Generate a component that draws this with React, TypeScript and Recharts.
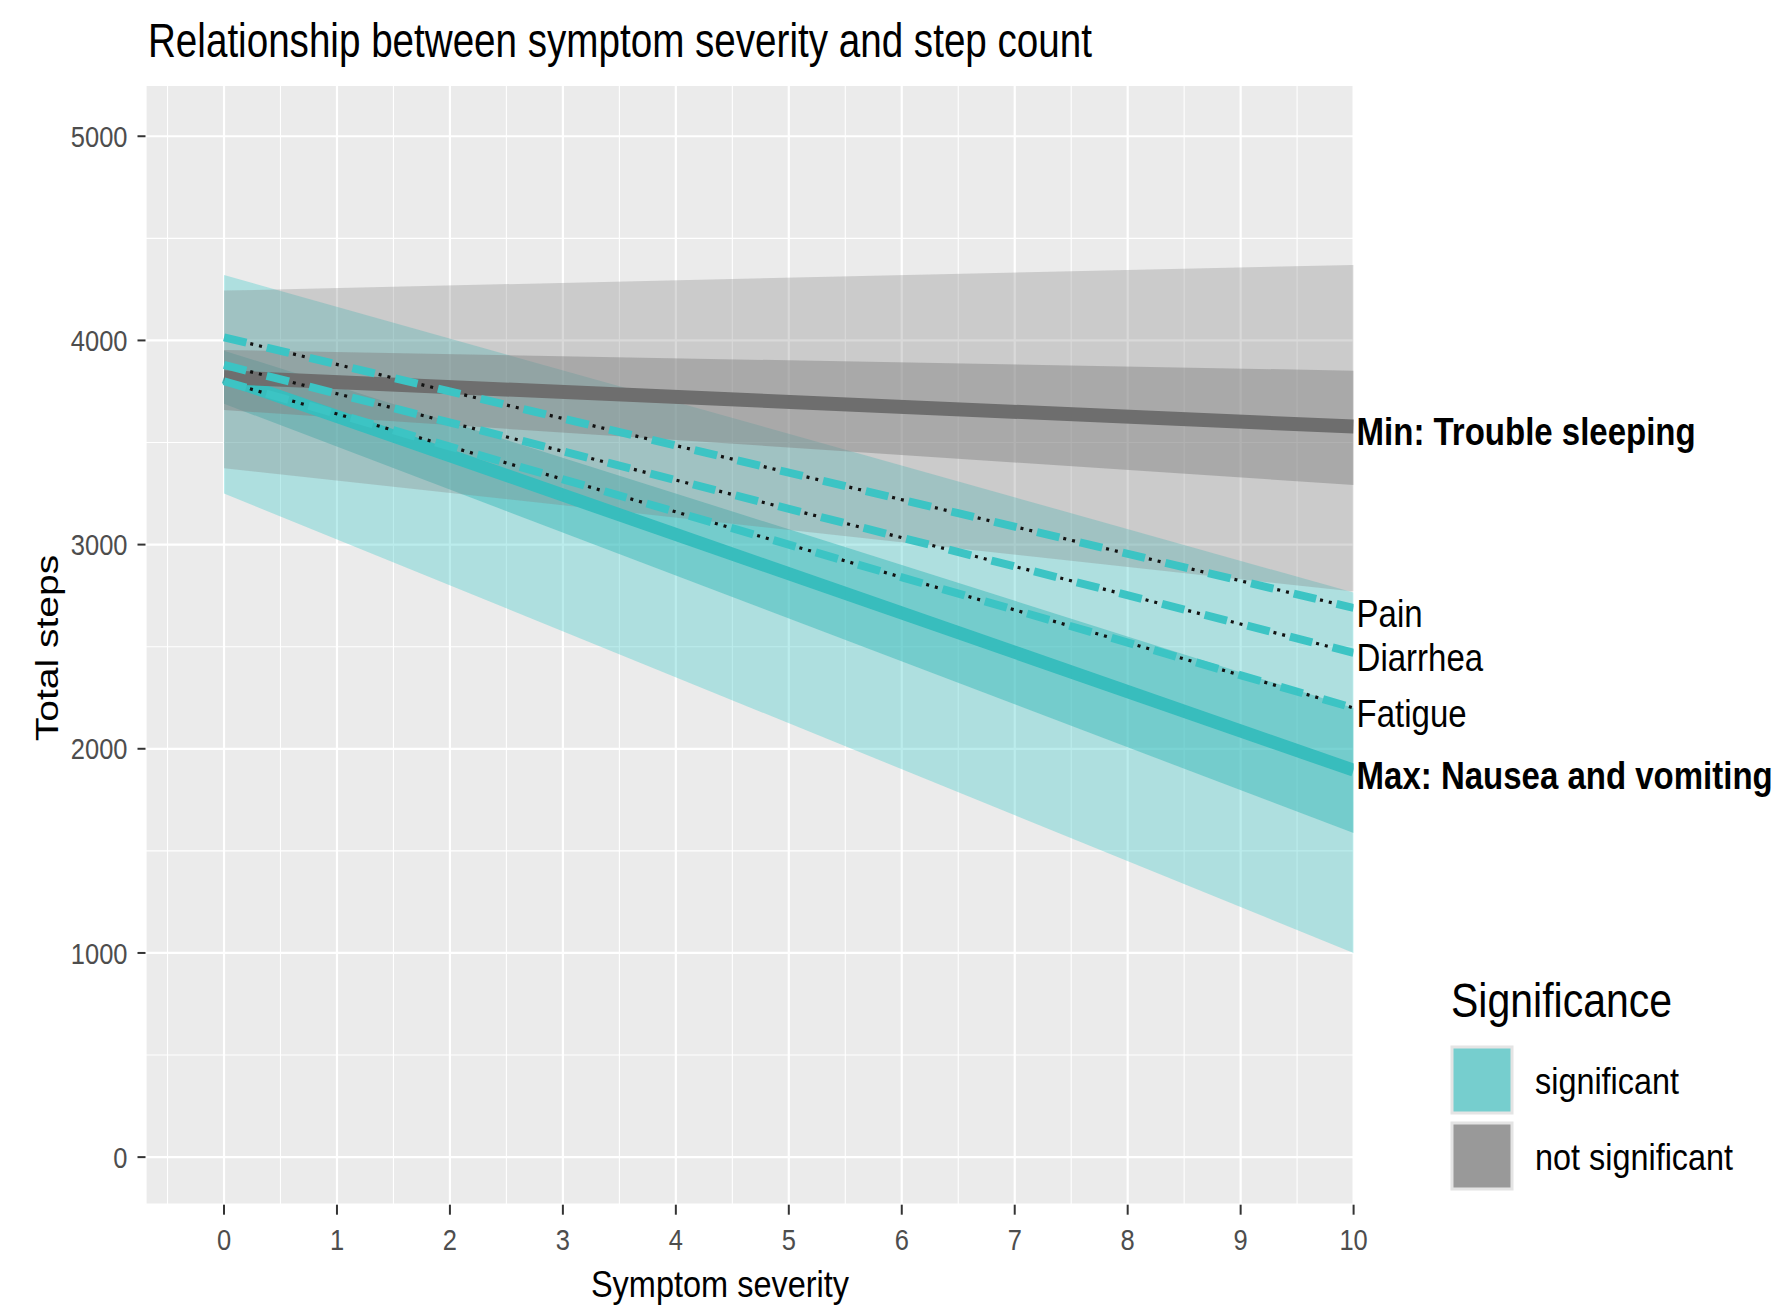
import React from 'react';
import {
  ComposedChart,
  Area,
  Line,
  XAxis,
  YAxis,
  CartesianGrid,
  ReferenceDot,
} from 'recharts';

// symptom severity at which the fitted values were read
const severity = [0, 10];

// Max: Nausea and vomiting (significant)
const nauseaLine = [3820, 1895];
const nauseaInnerLow = [3690, 1587];
const nauseaInnerHigh = [3950, 2200];
const nauseaOuterLow = [3250, 1000];
const nauseaOuterHigh = [4320, 2765];

// Min: Trouble sleeping (not significant)
const sleepLine = [3820, 3578];
const sleepInnerLow = [3659, 3292];
const sleepInnerHigh = [3953, 3852];
const sleepOuterLow = [3374, 2770];
const sleepOuterHigh = [4244, 4370];

// other significant symptoms (dashed)
const painLine = [4015, 2690];
const diarrheaLine = [3880, 2470];
const fatigueLine = [3800, 2200];

const xTicks = [0, 1, 2, 3, 4, 5, 6, 7, 8, 9, 10];
const yTicks = [0, 1000, 2000, 3000, 4000, 5000];
const xMinor = [-0.5, 0.5, 1.5, 2.5, 3.5, 4.5, 5.5, 6.5, 7.5, 8.5, 9.5];
const yMinor = [500, 1500, 2500, 3500, 4500];

const legendLabels = ['significant', 'not significant'];
const legendColors = ['#76CECE', '#999999'];

const FONT = '"Liberation Sans", Arial, Helvetica, sans-serif';
const STRETCH = 1.15;
const X_DOMAIN: [number, number] = [-0.695, 10];
const Y_DOMAIN: [number, number] = [-233, 5251];

const chartData = severity.map((x, i) => ({
  x,
  nauseaOuter: [nauseaOuterLow[i], nauseaOuterHigh[i]],
  nauseaInner: [nauseaInnerLow[i], nauseaInnerHigh[i]],
  nausea: nauseaLine[i],
  sleepOuter: [sleepOuterLow[i], sleepOuterHigh[i]],
  sleepInner: [sleepInnerLow[i], sleepInnerHigh[i]],
  sleep: sleepLine[i],
  pain: painLine[i],
  diarrhea: diarrheaLine[i],
  fatigue: fatigueLine[i],
}));

const last = severity.length - 1;
const endLabels = [
  { text: 'Min: Trouble sleeping', value: sleepLine[last], bold: true },
  { text: 'Pain', value: painLine[last], bold: false },
  { text: 'Diarrhea', value: diarrheaLine[last], bold: false },
  { text: 'Fatigue', value: fatigueLine[last], bold: false },
  { text: 'Max: Nausea and vomiting', value: nauseaLine[last], bold: true },
];

const applyScale = (axis: any, v: number) => {
  const s = axis && axis.scale;
  if (typeof s === 'function') return s(v);
  if (s && typeof s.map === 'function') return s.map(v);
  return null;
};

const XTick = (props: any) => {
  const { x, y, payload } = props;
  return (
    <g transform={`translate(${x},${y}) scale(1,${STRETCH})`}>
      <text x={0} y={0} dy="0.72em" textAnchor="middle" fill="#4D4D4D" fontSize={25.5} fontFamily={FONT}>
        {payload.value}
      </text>
    </g>
  );
};

const YTick = (props: any) => {
  const { x, y, payload } = props;
  return (
    <g transform={`translate(${x},${y}) scale(1,${STRETCH})`}>
      <text x={0} y={0} dy="0.36em" textAnchor="end" fill="#4D4D4D" fontSize={25.5} fontFamily={FONT}>
        {payload.value}
      </text>
    </g>
  );
};

const endLabel = (text: string, bold: boolean) => (props: any) => {
  const vb = props.viewBox || { x: 0, y: 0, width: 0, height: 0 };
  const x = vb.x + vb.width / 2 + 3;
  const y = vb.y + vb.height / 2 + 5;
  return (
    <g transform={`translate(${x},${y}) scale(1,${STRETCH})`}>
      <text x={0} y={0} dy="0.36em" fill="#000" fontSize={33} fontWeight={bold ? 700 : 400} fontFamily={FONT}>
        {text}
      </text>
    </g>
  );
};

const Overlay = () => (
  <svg width={1782} height={1305} style={{ position: 'absolute', left: 0, top: 0, pointerEvents: 'none' }}>
    <g transform="translate(148,57) scale(1,1.25)">
      <text x={0} y={0} fontSize={38.6} fill="#000" fontFamily={FONT}>
        Relationship between symptom severity and step count
      </text>
    </g>
    <g transform={`translate(720,1284) scale(1,${STRETCH})`}>
      <text x={0} y={0} dy="0.36em" textAnchor="middle" fontSize={32.5} fill="#000" fontFamily={FONT}>
        Symptom severity
      </text>
    </g>
    <g transform="translate(47,648) scale(1,1.26) rotate(-90)">
      <text x={0} y={0} dy="0.36em" textAnchor="middle" fontSize={31} fill="#000" fontFamily={FONT}>
        Total steps
      </text>
    </g>
    <g transform={`translate(1451,1000) scale(1,${STRETCH})`}>
      <text x={0} y={0} dy="0.36em" fontSize={41} fill="#000" fontFamily={FONT}>
        Significance
      </text>
    </g>
    {legendLabels.map((label, i) => (
      <g key={label}>
        <rect x={1452} y={1047 + i * 76} width={60} height={66} fill={legendColors[i]} stroke="#E4E4E4" strokeWidth={3} />
        <g transform={`translate(1535,${1081 + i * 76}) scale(1,${STRETCH})`}>
          <text x={0} y={0} dy="0.36em" fontSize={32.4} fill="#000" fontFamily={FONT}>
            {label}
          </text>
        </g>
      </g>
    ))}
  </svg>
);

export default function App() {
  return (
    <div style={{ position: 'absolute', left: 0, top: 0, width: 1782, height: 1305, background: '#fff' }}>
      <ComposedChart
        width={1782}
        height={1305}
        data={chartData}
        margin={{ top: 85, right: 428.4, bottom: 40.3, left: 45.5 }}
        style={{ position: 'absolute', left: 0, top: 0 }}
      >
        <CartesianGrid
          fill="#EBEBEB"
          stroke="#FFFFFF"
          strokeWidth={1.1}
          horizontalCoordinatesGenerator={({ yAxis }: any) =>
            yMinor.map((v) => applyScale(yAxis, v)).filter((v) => v != null)
          }
          verticalCoordinatesGenerator={({ xAxis }: any) =>
            xMinor.map((v) => applyScale(xAxis, v)).filter((v) => v != null)
          }
        />
        <CartesianGrid fill="none" stroke="#FFFFFF" strokeWidth={2.2} />
        <XAxis
          dataKey="x"
          type="number"
          domain={X_DOMAIN}
          ticks={xTicks}
          interval={0}
          allowDataOverflow
          axisLine={false}
          tickLine={{ stroke: '#333333', strokeWidth: 2 }}
          tickSize={10}
          tickMargin={14}
          height={60}
          tick={<XTick />}
        />
        <YAxis
          type="number"
          domain={Y_DOMAIN}
          ticks={yTicks}
          interval={0}
          allowDataOverflow
          axisLine={false}
          tickLine={{ stroke: '#333333', strokeWidth: 2 }}
          tickSize={8}
          tickMargin={10}
          width={100}
          tick={<YTick />}
        />

        <Area type="linear" dataKey="nauseaOuter" stroke="none" fill="#3CC8C8" fillOpacity={0.35} dot={false} activeDot={false} isAnimationActive={false} />
        <Area type="linear" dataKey="nauseaInner" stroke="none" fill="#3ABABA" fillOpacity={0.5} dot={false} activeDot={false} isAnimationActive={false} />
        <Line type="linear" dataKey="nausea" stroke="#38BDBD" strokeWidth={13} strokeLinecap="butt" dot={false} activeDot={false} isAnimationActive={false} />

        <Area type="linear" dataKey="sleepOuter" stroke="none" fill="#808080" fillOpacity={0.3} dot={false} activeDot={false} isAnimationActive={false} />
        <Area type="linear" dataKey="sleepInner" stroke="none" fill="#808080" fillOpacity={0.45} dot={false} activeDot={false} isAnimationActive={false} />
        <Line type="linear" dataKey="sleep" stroke="#6E6E6E" strokeWidth={14} strokeLinecap="butt" dot={false} activeDot={false} isAnimationActive={false} />

        {['pain', 'diarrhea', 'fatigue'].map((key) => (
          <Line
            key={`${key}-dots`}
            type="linear"
            dataKey={key}
            stroke="#111111"
            strokeWidth={3.2}
            strokeDasharray="0 27 3 6 3 5"
            dot={false}
            activeDot={false}
            isAnimationActive={false}
          />
        ))}
        {['pain', 'diarrhea', 'fatigue'].map((key) => (
          <Line
            key={`${key}-dash`}
            type="linear"
            dataKey={key}
            stroke="#3CC4C4"
            strokeWidth={8}
            strokeDasharray="23 21"
            dot={false}
            activeDot={false}
            isAnimationActive={false}
          />
        ))}

        {endLabels.map((l) => (
          <ReferenceDot
            key={l.text}
            x={severity[last]}
            y={l.value}
            r={0}
            fill="none"
            stroke="none"
            ifOverflow="visible"
            label={endLabel(l.text, l.bold)}
          />
        ))}
      </ComposedChart>
      <Overlay />
    </div>
  );
}
